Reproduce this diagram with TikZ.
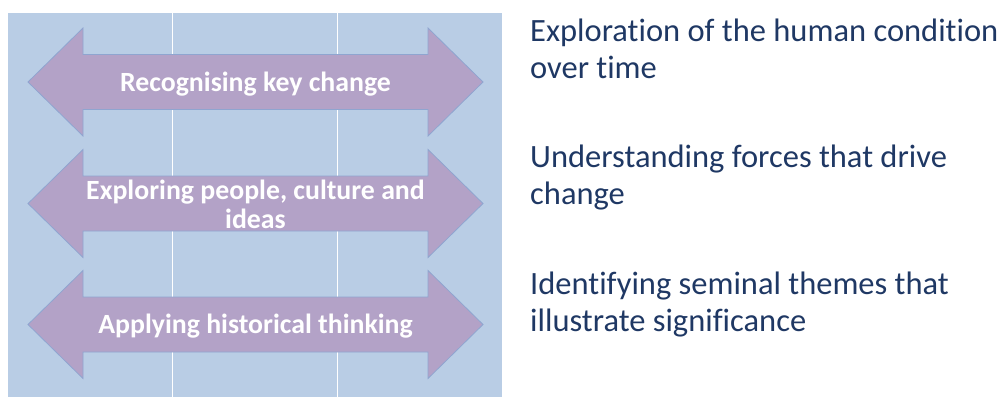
\documentclass[tikz,border=0pt]{standalone}
\usepackage{fontspec}
\setmainfont[Ligatures=CommonOff]{Carlito}
\definecolor{bgblue}{HTML}{B9CDE5}
\definecolor{arrfill}{HTML}{B3A2C7}
\definecolor{arrline}{HTML}{8FA5D0}
\definecolor{navy}{HTML}{1F3864}
\tikzset{
  dblarrow/.style={fill=arrfill, draw=arrline, line width=0.8pt, line join=miter},
  arrlabel/.style={text=white, font=\fontsize{27.8}{28.5}\selectfont\bfseries, align=center, inner sep=0pt},
  sidelabel/.style={text=navy, font=\fontsize{32.5}{37}\selectfont, align=left, anchor=north west, inner sep=0pt},
}
\begin{document}
\begin{tikzpicture}[x=1pt,y=-1pt]
\useasboundingbox (0,0) rectangle (1005,397);
% background panel
\fill[bgblue] (8,13) rectangle (502,397);
\draw[white, line width=0.8pt] (172,13) -- (172,397) (337,13) -- (337,397);
% arrows
\foreach \c/\n in {82/a1, 203.5/a2, 324.5/a3}{
  \draw[dblarrow] (28,\c) -- (83,\c-54) -- (83,\c-27.5) -- (428,\c-27.5) -- (428,\c-54)
     -- (483,\c) -- (428,\c+54) -- (428,\c+27.5) -- (83,\c+27.5) -- (83,\c+54) -- cycle;
  \coordinate (\n) at (255.5,\c);
}
\node[arrlabel] (l1) at ([yshift=-2]a1) {Recognising key change};
\node[arrlabel] (l2) at ([yshift=-1]a2) {Exploring people, culture and\\ideas};
\node[arrlabel] (l3) at ([yshift=-2]a3) {Applying historical thinking};
% side texts
\node[sidelabel] (t1) at (530,19) {Exploration of the human condition\\over time};
\node[sidelabel] (t2) at (530,145) {Understanding forces that drive\\change};
\node[sidelabel] (t3) at (530,272) {Identifying seminal themes that\\illustrate significance};
\end{tikzpicture}
\end{document}
